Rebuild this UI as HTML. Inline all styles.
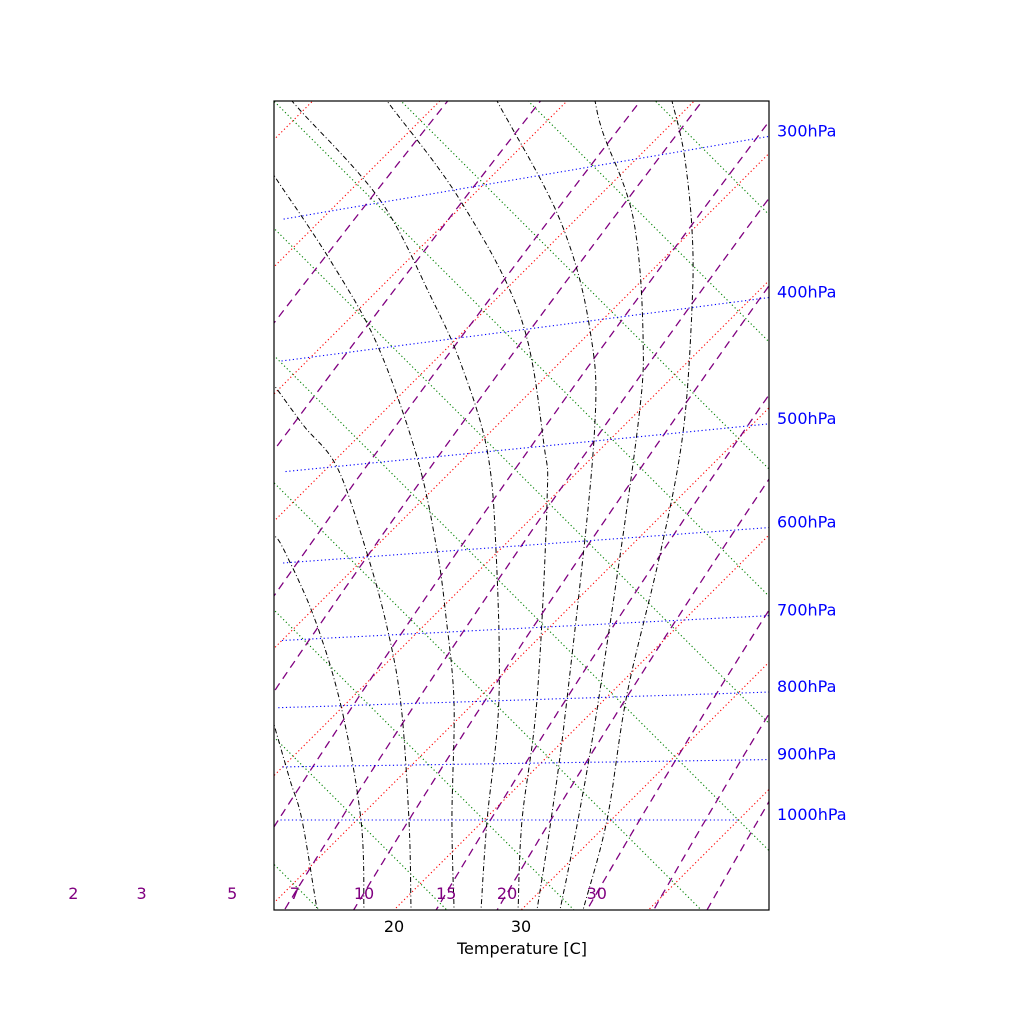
<!DOCTYPE html>
<html><head><meta charset="utf-8">
<style>
html,body{margin:0;padding:0;background:#fff;overflow:hidden;width:1017px;height:1011px;}
svg{display:block;font-family:"DejaVu Sans","Liberation Sans",sans-serif;}
</style></head>
<body>
<svg id="chart" width="1017" height="1011" viewBox="0 0 1017 1011" xmlns="http://www.w3.org/2000/svg">
<defs><clipPath id="plotclip"><rect x="274" y="101" width="495" height="809"/></clipPath></defs>
<rect x="0" y="0" width="1017" height="1011" fill="#fff"/>
<g id="plot" clip-path="url(#plotclip)"></g>
<g id="labels"></g>
<rect x="274" y="101" width="495" height="809" fill="none" stroke="#000" stroke-width="1.2"/>
<text x="394" y="932" font-size="16" text-anchor="middle">20</text>
<text x="521" y="932" font-size="16" text-anchor="middle">30</text>
<text x="522" y="954" font-size="16" text-anchor="middle">Temperature [C]</text>
</svg>
<script>
// ---- data ----
const isotherms = [-100,-90,-80,-70,-60,-50,-40,-30,-20,-10,0,10,20,30,40,50,60];
const dryAdiabats = [-60,-50,-40,-30,-20,-10,0,10,20,30,40,50,60,70,80,90,100,110,120,130,140,150];
const isobars = [300,400,500,600,700,800,900,1000];
const isobarLabels = ["300hPa","400hPa","500hPa","600hPa","700hPa","800hPa","900hPa","1000hPa"];
const mixingRatios = [0.5,1,2,3,5,7,10,15,20,30,40,50];
const mixingLabels = ["","","2","3","5","7","10","15","20","30","",""];
// moist adiabats: temperature (C) and potential temperature (C) points
const moistT = [
  [13.95,5.69,1.60,-2.96],
  [17.64,10.33,-0.20,-9.32,-16.95,-18.92],
  [21.34,14.10,4.43,-2.80,-10.50,-19.31,-25.13,-30.71],
  [24.72,17.48,8.36,1.05,-4.92,-13.81,-25.84,-36.14,-46.59],
  [26.84,20.24,11.74,-0.28,-8.85,-17.66,-25.29,-36.92,-50.29],
  [29.75,22.99,14.73,0.03,-4.77,-16.56,-30.63,-44.16],
  [31.24,25.27,17.01,-1.23,-10.19,-21.20,-35.51],
  [33.05,27.39,19.37,1.60,-5.79,-15.69,-24.66,-27.80],
  [34.86,29.67,21.34,12.69,5.22,-3.98,-10.03,-16.72,-21.75]
];
const moistTheta = [
  [-0.2,5.69,7.89,10.41],
  [3.49,10.33,17.72,22.59,25.50,25.90],
  [7.19,14.10,22.52,27.55,31.95,36.19,36.82,37.69],
  [10.57,17.48,26.92,32.97,37.53,43.27,49.01,51.92,54.04],
  [12.69,20.24,30.61,42.17,49.33,54.04,56.95,60.57,61.35],
  [15.60,22.99,33.60,49.88,54.20,62.38,66.86,68.90],
  [17.09,25.27,36.04,58.52,66.86,73.15,77.55],
  [18.90,27.39,38.71,62.46,70.79,79.12,83.37,85.25],
  [20.71,29.67,41.15,55.14,66.07,76.69,82.74,88.16,91.31]
];

// ---- axis functions ----
const S = 12.72;
function xy(T, thC){
  const A = 1304 + S*(T-20), B = -336 + S*(thC-20);
  return [(A+B)/2, (A-B)/2];
}
function theta(T,p){ return (T+273.15)*Math.pow(1000/p,0.2857)-273.15; }
function tFromEs(e){ const l=Math.log(e/6.112); return 243.5*l/(17.67-l); }

const NS="http://www.w3.org/2000/svg";
const plot=document.getElementById('plot');
const labels=document.getElementById('labels');
function poly(pts,stroke,dash,w,name){
  const el=document.createElementNS(NS,'polyline');
  el.setAttribute('points',pts.map(p=>p[0].toFixed(1)+','+p[1].toFixed(1)).join(' '));
  el.setAttribute('fill','none');
  el.setAttribute('stroke',stroke);
  el.setAttribute('stroke-width',w);
  el.setAttribute('stroke-dasharray',dash);
  
  
  plot.appendChild(el);
  return el;
}

// isotherms (red dotted)
isotherms.forEach(T=>{
  poly([xy(T,-200),xy(T,300)],'#ff0000','1.2 2.6',1.1,'isotherm-'+T);
});
// dry adiabats (green dotted)
dryAdiabats.forEach(th=>{
  poly([xy(-200,th),xy(200,th)],'#008000','1.2 2.6',1.1,'dry-adiabat-'+th);
});
// mixing ratio lines (purple dashed)
mixingRatios.forEach((w,i)=>{
  const pts=[];
  for(let p=1250;p>=150;p-=5){
    const T=tFromEs(w*p/622);
    pts.push(xy(T,theta(T,p)));
  }
  poly(pts,'#800080','8 5.5',1.3,'mixing-ratio-line-'+w);
  if(mixingLabels[i]){
    let lx=null;
    for(let k=0;k<pts.length-1;k++){
      const a=pts[k],b=pts[k+1];
      if((a[1]-893)*(b[1]-893)<=0){ const f=(893-a[1])/(b[1]-a[1]); lx=a[0]+f*(b[0]-a[0]); break; }
    }
    const t=document.createElementNS(NS,'text');
    t.setAttribute('x',lx.toFixed(1));
    t.setAttribute('y','899');
    t.setAttribute('font-size','16');
    t.setAttribute('fill','#800080');
    t.setAttribute('text-anchor','middle');
    t.textContent=mixingLabels[i];
    
    
    labels.appendChild(t);
  }
});
// moist adiabats (black dash-dot), Catmull-Rom through data points
function catmull(P,n){
  const out=[];
  for(let i=0;i<P.length-1;i++){
    const p0=P[Math.max(0,i-1)],p1=P[i],p2=P[i+1],p3=P[Math.min(P.length-1,i+2)];
    for(let k=0;k<n;k++){
      const t=k/n,t2=t*t,t3=t2*t;
      out.push([0,1].map(j=>0.5*((2*p1[j])+(-p0[j]+p2[j])*t+(2*p0[j]-5*p1[j]+4*p2[j]-p3[j])*t2+(-p0[j]+3*p1[j]-3*p2[j]+p3[j])*t3)));
    }
  }
  out.push(P[P.length-1]);
  return out;
}
moistT.forEach((Ts,i)=>{
  const pts=Ts.map((T,k)=>xy(T,moistTheta[i][k]));
  const n=pts.length;
  const a=pts[0],b=pts[1],y=pts[n-1],z=pts[n-2];
  pts.unshift([a[0]+(a[0]-b[0])*0.3,a[1]+(a[1]-b[1])*0.3]);
  pts.push([y[0]+(y[0]-z[0])*0.4,y[1]+(y[1]-z[1])*0.4]);
  poly(catmull(pts,10),'#000','5 2.5 1 2.5',1,'moist-adiabat-'+(i+1));
});
// isobars (blue dotted)
isobars.forEach((p,i)=>{
  const pts=[];
  for(let T=-120;T<=40.001;T+=1){
    const q=xy(T,theta(T,p));
    if(q[0]>=278) pts.push(q);
  }
  poly(pts,'#0000ff','1.2 2.6',1.1,'isobar-'+p);
  let yEnd=null;
  for(let T=-120;T<=80;T+=0.05){const q=xy(T,theta(T,p)); if(q[0]>=769){yEnd=q[1];break;}}
  const t=document.createElementNS(NS,'text');
  t.setAttribute('x','777');
  t.setAttribute('y',yEnd.toFixed(1));
  t.setAttribute('font-size','16');
  t.setAttribute('fill','#0000ff');
  t.textContent=isobarLabels[i];
  
  
  labels.appendChild(t);
});
</script>
</body></html>
